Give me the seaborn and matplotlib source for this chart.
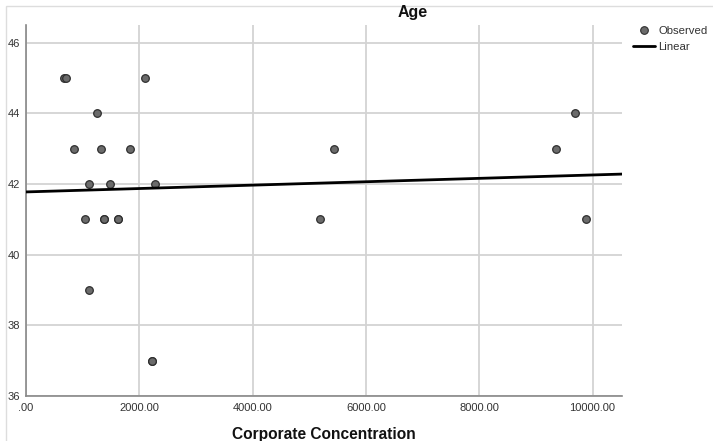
import matplotlib
matplotlib.use("Agg")
import matplotlib.pyplot as plt
import matplotlib.ticker as mticker
from matplotlib.lines import Line2D
from matplotlib.patches import Rectangle
import seaborn as sns
import pandas as pd

# observations (some points coincide exactly in the original)
corp_conc = [670, 706, 2100, 1253, 847, 1324, 1836, 5437, 9350, 9691,
             1112, 1483, 2277, 1041, 1377, 1377, 1624, 1624, 5190, 9890,
             1112, 2224, 2224]
age = [45, 45, 45, 44, 43, 43, 43, 43, 43, 44,
       42, 42, 42, 41, 41, 41, 41, 41, 41, 41,
       39, 37, 37]
x_ticks = [0, 2000, 4000, 6000, 8000, 10000]
y_ticks = [36, 38, 40, 42, 44, 46]

df = pd.DataFrame({"Corporate Concentration": corp_conc, "Age": age})

sns.set_style("white")
plt.rcParams["font.family"] = ["Liberation Sans", "DejaVu Sans"]

fig = plt.figure(figsize=(7.13, 4.41), dpi=100)
ax = fig.add_axes([26/713, 45/441, (622-26)/713, (396-25)/441])
ax.set_xlim(0, 10520)
ax.set_ylim(36, 46.5)

sns.regplot(data=df, x="Corporate Concentration", y="Age", ax=ax, ci=None,
            truncate=False,
            scatter_kws=dict(s=30, color="#6b6b6b", edgecolor="#2e2e2e", linewidths=0.9, zorder=3, alpha=1),
            line_kws=dict(color="black", lw=2, zorder=4))

ax.set_xlim(0, 10520)
ax.set_ylim(36, 46.5)
ax.set_xticks(x_ticks)
ax.set_yticks(y_ticks)
ax.xaxis.set_major_formatter(mticker.FuncFormatter(lambda v, p: ".00" if v == 0 else f"{v:.2f}"))
ax.yaxis.set_major_formatter(mticker.FuncFormatter(lambda v, p: f"{int(v)}"))
ax.tick_params(axis="both", length=0, labelsize=8, labelcolor="#333333")
ax.tick_params(axis="x", pad=5)
ax.tick_params(axis="y", pad=4)
ax.grid(True, color="#d3d3d3", lw=1.3)
ax.set_axisbelow(True)
for s in ["top", "right"]:
    ax.spines[s].set_visible(False)
for s in ["left", "bottom"]:
    ax.spines[s].set_color("#888888")
    ax.spines[s].set_linewidth(1.2)
ax.set_xlabel("")
ax.set_ylabel("")

fig.text(324/713, 1 - 434/441, "Corporate Concentration", ha="center", va="center",
         fontsize=11.2, fontweight="bold", color="#111111")
fig.text(413/713, 1 - 13/441, "Age", ha="center", va="center",
         fontsize=11.5, fontweight="bold", color="#111111")

handles = [Line2D([0], [0], marker="o", ls="none", markersize=5.5, markerfacecolor="#6b6b6b",
                  markeredgecolor="#2e2e2e", markeredgewidth=0.8),
           Line2D([0], [0], color="black", lw=2)]
fig.legend(handles, ["Observed", "Linear"], loc="upper left", bbox_to_anchor=(633/713, 1 - 26/441),
           frameon=False, fontsize=8.2, handlelength=1.9, handletextpad=0.3, labelspacing=0.5,
           borderpad=0, borderaxespad=0, labelcolor="#333333")

fig.patches.append(Rectangle((6/713, -0.1), 1.2, (441-6)/441 + 0.1, transform=fig.transFigure,
                             fill=False, edgecolor="#dddddd", lw=1))

fig.savefig("out.png", dpi=100)
